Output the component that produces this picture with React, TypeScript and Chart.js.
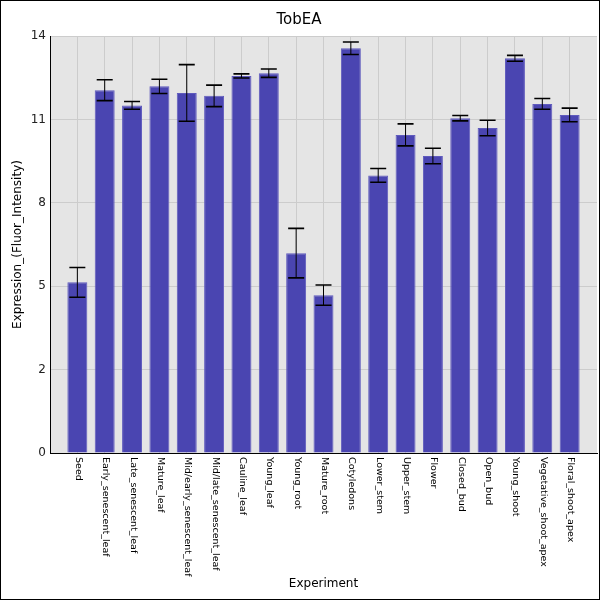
import { useEffect, useRef } from "react";
import { Chart, registerables } from "chart.js";

Chart.register(...registerables);

const categories = [
  "Seed",
  "Early_senescent_leaf",
  "Late_senescent_leaf",
  "Mature_leaf",
  "Mid/early_senescent_leaf",
  "Mid/late_senescent_leaf",
  "Cauline_leaf",
  "Young_leaf",
  "Young_root",
  "Mature_root",
  "Cotyledons",
  "Lower_stem",
  "Upper_stem",
  "Flower",
  "Closed_bud",
  "Open_bud",
  "Young_shoot",
  "Vegetative_shoot_apex",
  "Floral_shoot_apex",
];

const means = [
  5.73, 12.18, 11.67, 12.31, 12.09, 11.99, 12.66, 12.75, 6.71, 5.3, 13.59, 9.32,
  10.68, 9.97, 11.24, 10.91, 13.25, 11.72, 11.35,
];

const errors = [
  0.5, 0.35, 0.13, 0.24, 0.95, 0.36, 0.07, 0.14, 0.83, 0.34, 0.21, 0.23, 0.37,
  0.26, 0.09, 0.26, 0.1, 0.18, 0.23,
];

const yMin = 0;
const yMax = 14;
const yStep = 2.8;

const FONT = "DejaVu Sans";

// grey panel behind the bars
const panelBg = {
  id: "panelBg",
  beforeDraw(chart: Chart) {
    const { ctx, chartArea } = chart;
    ctx.save();
    ctx.fillStyle = "#e5e5e5";
    ctx.fillRect(chartArea.left, chartArea.top, chartArea.right - chartArea.left, chartArea.bottom - chartArea.top);
    ctx.restore();
  },
};

// whiskers plus the rotated category labels (read top to bottom)
const errorBars = {
  id: "errorBars",
  afterDatasetsDraw(chart: Chart) {
    const { ctx } = chart;
    const xs = chart.scales.x;
    const ys = chart.scales.y;
    ctx.save();
    ctx.strokeStyle = "#000";
    means.forEach((m, i) => {
      const x = xs.getPixelForValue(i);
      const top = ys.getPixelForValue(m + errors[i]);
      const bot = ys.getPixelForValue(m - errors[i]);
      ctx.lineWidth = 1;
      ctx.beginPath();
      ctx.moveTo(x, top);
      ctx.lineTo(x, bot);
      ctx.stroke();
      ctx.lineWidth = 1.6;
      ctx.beginPath();
      ctx.moveTo(x - 8, top);
      ctx.lineTo(x + 8, top);
      ctx.moveTo(x - 8, bot);
      ctx.lineTo(x + 8, bot);
      ctx.stroke();
    });
    ctx.restore();
  },
  afterDraw(chart: Chart) {
    const { ctx, chartArea } = chart;
    const xs = chart.scales.x;
    ctx.save();
    ctx.fillStyle = "#000";
    ctx.font = `9.5px "${FONT}"`;
    ctx.textAlign = "left";
    ctx.textBaseline = "middle";
    categories.forEach((c, i) => {
      ctx.save();
      ctx.translate(xs.getPixelForValue(i) + 1, chartArea.bottom + 4);
      ctx.rotate(Math.PI / 2);
      ctx.fillText(c, 0, 0);
      ctx.restore();
    });
    ctx.restore();
  },
};

export default function App() {
  const canvasRef = useRef<HTMLCanvasElement>(null);

  useEffect(() => {
    document.body.style.margin = "0";
    const canvas = canvasRef.current;
    if (!canvas) return;
    Chart.defaults.font.family = FONT;

    const chart = new Chart(canvas, {
      type: "bar",
      data: {
        datasets: [
          {
            data: means.map((v, i) => ({ x: i, y: v })),
            backgroundColor: "#4a45b1",
            borderColor: "#5f5abd",
            borderWidth: 1,
            barPercentage: 0.73,
            categoryPercentage: 1,
          },
        ],
      },
      options: {
        responsive: false,
        animation: false,
        layout: { padding: { left: 0, right: 2, top: 0, bottom: 0 } },
        plugins: {
          legend: { display: false },
          tooltip: { enabled: false },
          title: {
            display: true,
            text: "TobEA",
            color: "#000",
            font: { size: 15, weight: "normal", family: FONT },
            padding: { top: 10, bottom: 7 },
          },
        },
        scales: {
          x: {
            type: "linear",
            min: -1,
            max: categories.length,
            offset: false,
            ticks: { display: false, stepSize: 1 },
            grid: {
              offset: false,
              drawTicks: false,
              color: (c: any) =>
                c.tick && (c.tick.value < 0 || c.tick.value >= categories.length) ? "rgba(0,0,0,0)" : "#cccccc",
            },
            border: { color: "#000", width: 1 },
            title: {
              display: true,
              text: "Experiment",
              color: "#000",
              font: { size: 12, family: FONT },
              padding: { top: 0, bottom: 8 },
            },
            afterFit: (s: any) => {
              s.height = 146;
            },
          },
          y: {
            min: yMin,
            max: yMax,
            ticks: {
              stepSize: yStep,
              color: "#222",
              padding: 4,
              font: { size: 12, family: FONT },
              callback: (v: any) => String(Math.floor(Number(v) + 1e-9)),
            },
            grid: { drawTicks: false, color: "#cccccc" },
            border: { color: "#000", width: 1 },
            title: {
              display: true,
              text: "Expression_(Fluor_Intensity)",
              color: "#000",
              font: { size: 12, family: FONT },
              padding: { top: 10, bottom: 0 },
            },
            afterFit: (s: any) => {
              s.width = 49;
            },
          },
        },
      },
      plugins: [panelBg, errorBars],
    });

    return () => {
      chart.destroy();
    };
  }, []);

  return (
    <div style={{ width: 600, height: 600, border: "1px solid #000", boxSizing: "border-box", background: "#fff" }}>
      <canvas ref={canvasRef} width={598} height={598} />
    </div>
  );
}
